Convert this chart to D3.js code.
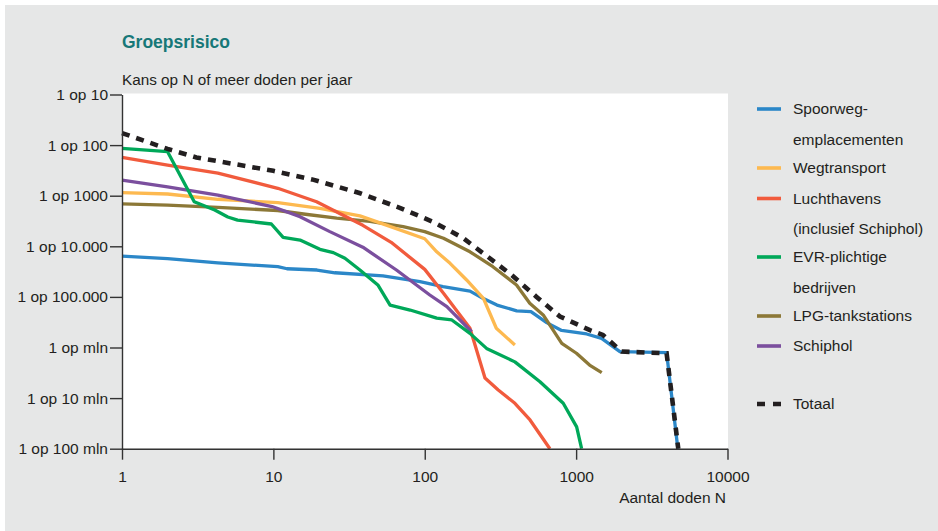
<!DOCTYPE html>
<html>
<head>
<meta charset="utf-8">
<script src="https://cdn.jsdelivr.net/npm/d3@7"></script>
<style>
  body { margin: 0; background: #fff; }
  svg { display: block; font-family: "Liberation Sans", Arial, sans-serif; }
  .axis path, .axis line { stroke: #333; stroke-width: 1.4; }
  .axis text { fill: #231f20; font-size: 15.5px; }
</style>
</head>
<body>
<svg width="938" height="531"></svg>
<script>
// N (aantal doden) vs kans per jaar
const spoorweg = [[1, 6.4e-5], [2, 5.7e-5], [4.3, 4.7e-5], [10.7, 3.95e-5], [12.3, 3.6e-5], [19.4, 3.4e-5],
  [25.5, 3.0e-5], [53, 2.6e-5], [93, 2.0e-5], [132, 1.6e-5], [199, 1.3e-5], [242, 9.4e-6], [300, 6.9e-6],
  [405, 5.3e-6], [503, 5.1e-6], [639, 3.1e-6], [802, 2.17e-6], [1173, 1.85e-6], [1473, 1.52e-6],
  [1946, 8.3e-7], [3960, 7.9e-7], [4700, 1e-8]];
const wegtransport = [[1, 1.15e-3], [2, 1.08e-3], [4.3, 8.5e-4], [10.7, 7.3e-4], [20.3, 5.6e-4], [37.3, 4.0e-4],
  [50.6, 2.9e-4], [100, 1.41e-4], [120, 7.8e-5], [147, 4.6e-5], [189, 2.16e-5], [244, 9.4e-6], [297, 2.4e-6],
  [394, 1.12e-6]];
const luchthavens = [[1, 5.7e-3], [2, 4.0e-3], [4.3, 2.8e-3], [10.7, 1.4e-3], [19.3, 7.6e-4], [39, 2.6e-4],
  [60, 1.2e-4], [100, 3.5e-5], [133, 1.18e-5], [199, 2.4e-6], [250, 2.5e-7], [306, 1.45e-7], [394, 7.9e-8],
  [496, 3.7e-8], [671, 1e-8]];
const evr = [[1, 8.6e-3], [2, 7.4e-3], [3, 7.6e-4], [4.1, 5.2e-4], [5, 3.8e-4], [5.8, 3.3e-4], [9.7, 2.76e-4],
  [11.6, 1.5e-4], [15, 1.33e-4], [20.3, 8.7e-5], [24.9, 7.5e-5], [29.7, 5.8e-5], [37.3, 3.4e-5], [49, 1.72e-5],
  [59, 6.9e-6], [80, 5.5e-6], [120, 3.8e-6], [151, 3.5e-6], [199, 1.9e-6], [256, 9.6e-7], [394, 5.2e-7],
  [577, 2.1e-7], [822, 7.9e-8], [1008, 2.7e-8], [1087, 1e-8]];
const lpg = [[1, 6.9e-4], [2, 6.5e-4], [4.3, 5.9e-4], [10.7, 5.1e-4], [15.8, 4.35e-4], [26.2, 3.6e-4],
  [43.4, 3.1e-4], [72, 2.44e-4], [100, 1.95e-4], [133, 1.44e-4], [199, 7.8e-5], [282, 3.95e-5], [404, 1.72e-5],
  [494, 7.5e-6], [606, 4.4e-6], [804, 1.21e-6], [1005, 7.7e-7], [1227, 4.5e-7], [1476, 3.2e-7]];
const schiphol = [[1, 2.04e-3], [2, 1.5e-3], [4.3, 1.03e-3], [9.8, 6.1e-4], [15, 3.85e-4], [23.6, 1.95e-4],
  [39, 9.6e-5], [65, 3.4e-5], [108, 1.09e-5], [140, 6.4e-6], [204, 2.05e-6]];
const totaal = [[1, 1.73e-2], [2, 8.4e-3], [3.1, 5.7e-3], [10, 3.1e-3], [18, 2.1e-3], [37, 1.13e-3], [69, 5.7e-4],
  [113, 3.06e-4], [179, 1.46e-4], [261, 6.2e-5], [375, 2.7e-5], [548, 1.0e-5], [782, 4.1e-6], [1233, 2.2e-6],
  [1503, 1.77e-6], [2000, 8.3e-7], [3960, 7.7e-7], [4730, 1e-8]];

const yTickValues = [1e-1, 1e-2, 1e-3, 1e-4, 1e-5, 1e-6, 1e-7, 1e-8];
const yTickLabels = ["1 op 10", "1 op 100", "1 op 1000", "1 op 10.000", "1 op 100.000", "1 op mln", "1 op 10 mln", "1 op 100 mln"];
const xTickValues = [1, 10, 100, 1000, 10000];

const series = [
  { name: ["Spoorweg-", "emplacementen"], data: spoorweg, color: "#2b87c8", legendY: 109 },
  { name: ["Wegtransport"], data: wegtransport, color: "#fdb950", legendY: 168 },
  { name: ["Luchthavens", "(inclusief Schiphol)"], data: luchthavens, color: "#f15b3d", legendY: 198.5 },
  { name: ["EVR-plichtige", "bedrijven"], data: evr, color: "#00a859", legendY: 257 },
  { name: ["LPG-tankstations"], data: lpg, color: "#8c7837", legendY: 316 },
  { name: ["Schiphol"], data: schiphol, color: "#7b4f9e", legendY: 346 }
];
const drawOrder = [0, 4, 1, 2, 5, 3];

const svg = d3.select("svg");
const plot = { left: 122, right: 727.5, top: 94.5, bottom: 448.7 };

svg.append("rect").attr("x", 5).attr("y", 5).attr("width", 933).attr("height", 526).attr("fill", "#e6e7e7");
svg.append("rect").attr("x", plot.left).attr("y", 93.5)
  .attr("width", 728 - plot.left).attr("height", plot.bottom - 93.5).attr("fill", "#fff");

const x = d3.scaleLog().domain([1, 10000]).range([plot.left, plot.right]);
const y = d3.scaleLog().domain([1e-8, 1e-1]).range([plot.bottom, plot.top]);

svg.append("text").attr("x", 122).attr("y", 48)
  .attr("fill", "#177878").style("font-size", "17.5px").style("font-weight", "bold")
  .text("Groepsrisico");
svg.append("text").attr("x", 122).attr("y", 85)
  .attr("fill", "#231f20").style("font-size", "15.3px")
  .text("Kans op N of meer doden per jaar");

const line = d3.line()
  .x(function (d) { return x(d[0]); })
  .y(function (d) { return y(d[1]); });

drawOrder.forEach(function (i) {
  svg.append("path")
    .datum(series[i].data)
    .attr("d", line)
    .attr("fill", "none")
    .attr("stroke", series[i].color)
    .attr("stroke-width", 3.3)
    .attr("stroke-linejoin", "round");
});

svg.append("path")
  .datum(totaal)
  .attr("d", line)
  .attr("fill", "none")
  .attr("stroke", "#231f20")
  .attr("stroke-width", 4.6)
  .attr("stroke-dasharray", "8,7");

// axes
svg.append("g")
  .attr("class", "axis")
  .attr("transform", "translate(" + plot.left + ",0)")
  .call(d3.axisLeft(y).tickValues(yTickValues)
    .tickFormat(function (d, i) { return yTickLabels[i]; })
    .tickSize(12).tickSizeOuter(0).tickPadding(2));

svg.append("g")
  .attr("class", "axis")
  .attr("transform", "translate(0," + plot.bottom + ")")
  .call(d3.axisBottom(x).tickValues(xTickValues)
    .tickFormat(d3.format("d"))
    .tickSize(11).tickSizeOuter(0).tickPadding(11));

svg.append("text").attr("x", 726).attr("y", 503)
  .attr("text-anchor", "end").attr("fill", "#231f20").style("font-size", "15.5px")
  .text("Aantal doden N");

// legend
const legend = svg.append("g").style("font-size", "15.5px").attr("fill", "#231f20");
series.forEach(function (s) {
  legend.append("line")
    .attr("x1", 757).attr("x2", 781)
    .attr("y1", s.legendY).attr("y2", s.legendY)
    .attr("stroke", s.color).attr("stroke-width", 3.6);
  s.name.forEach(function (t, j) {
    legend.append("text")
      .attr("x", 793).attr("y", s.legendY + j * 30.5)
      .attr("dy", "0.35em")
      .text(t);
  });
});
legend.append("line")
  .attr("x1", 757).attr("x2", 781)
  .attr("y1", 404).attr("y2", 404)
  .attr("stroke", "#231f20").attr("stroke-width", 4.6)
  .attr("stroke-dasharray", "8,8");
legend.append("text").attr("x", 793).attr("y", 404).attr("dy", "0.35em").text("Totaal");
</script>
</body>
</html>
